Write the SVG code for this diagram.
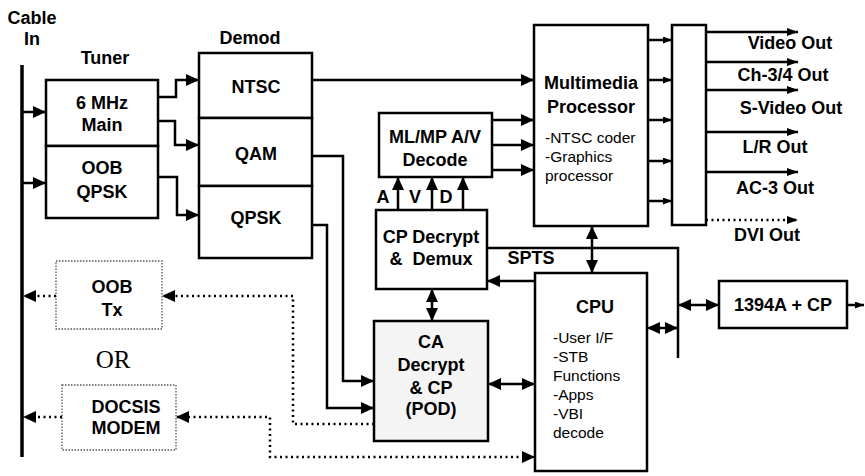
<svg xmlns="http://www.w3.org/2000/svg" width="865" height="476" viewBox="0 0 865 476">
<style>
.box{fill:#fff;stroke:#000;stroke-width:2.5}
.ca{fill:#f4f4f4;stroke:#000;stroke-width:2.5}
.dbox{fill:#fff;stroke:#555;stroke-width:1.3;stroke-dasharray:1.5 1.5}
.ln{fill:none;stroke:#000;stroke-width:2.5}
.dl{fill:none;stroke:#000;stroke-width:2.5;stroke-dasharray:2 3.5}
.bus{fill:none;stroke:#000;stroke-width:3.5}
.b{font-family:"Liberation Sans",Arial,sans-serif;font-weight:bold;font-size:18px;text-anchor:middle;fill:#000}
.r{font-family:"Liberation Sans",Arial,sans-serif;font-size:15.5px;fill:#000}
.or{font-family:"Liberation Serif","Times New Roman",serif;font-size:25px;text-anchor:middle;fill:#000}
</style>
<defs>
<marker id="a" markerUnits="userSpaceOnUse" markerWidth="14" markerHeight="13" refX="13" refY="6" orient="auto-start-reverse" viewBox="0 0 14 13"><path d="M0,0 L13,6 L0,12 Z" fill="#000"/></marker>
<marker id="s" markerUnits="userSpaceOnUse" markerWidth="10" markerHeight="8" refX="9" refY="3.5" orient="auto-start-reverse" viewBox="0 0 10 8"><path d="M0,0 L9,3.5 L0,7 Z" fill="#000"/></marker>
<marker id="m" markerUnits="userSpaceOnUse" markerWidth="12" markerHeight="10" refX="11" refY="4" orient="auto-start-reverse" viewBox="0 0 12 10"><path d="M0,0 L11,4 L0,8 Z" fill="#000"/></marker>
</defs>

<g id="labels">
<text class="b" x="32" y="24">Cable</text>
<text class="b" x="32" y="45">In</text>
<text class="b" x="105" y="64">Tuner</text>
<text class="b" x="250" y="44">Demod</text>
<text class="or" x="113" y="368">OR</text>
</g>

<g id="bus">
<path class="bus" d="M22,65 V457"/>
</g>

<g id="tuner-main">
<rect class="box" x="46" y="80" width="112" height="66"/>
<text class="b" x="102" y="109">6 MHz</text>
<text class="b" x="102" y="131">Main</text>
</g>
<g id="tuner-oob">
<rect class="box" x="46" y="146" width="112" height="72"/>
<text class="b" x="102" y="174">OOB</text>
<text class="b" x="102" y="198">QPSK</text>
</g>

<g id="demod-ntsc">
<rect class="box" x="199" y="53" width="113" height="65"/>
<text class="b" x="256" y="93">NTSC</text>
</g>
<g id="demod-qam">
<rect class="box" x="199" y="118" width="113" height="68"/>
<text class="b" x="256" y="160">QAM</text>
</g>
<g id="demod-qpsk">
<rect class="box" x="199" y="186" width="113" height="72"/>
<text class="b" x="256" y="224">QPSK</text>
</g>

<g id="mlmp">
<rect class="box" x="379" y="113" width="113" height="64"/>
<text class="b" x="435" y="143">ML/MP A/V</text>
<text class="b" x="435" y="166">Decode</text>
</g>

<g id="cpdecrypt">
<rect class="box" x="376" y="210" width="111" height="79"/>
<text class="b" x="431" y="243">CP Decrypt</text>
<text class="b" x="431" y="265" style="white-space:pre">&amp;  Demux</text>
</g>

<g id="ca">
<rect class="ca" x="374" y="321" width="114" height="120"/>
<text class="b" x="431" y="348">CA</text>
<text class="b" x="431" y="371">Decrypt</text>
<text class="b" x="431" y="394">&amp; CP</text>
<text class="b" x="431" y="415">(POD)</text>
</g>

<g id="multimedia">
<rect class="box" x="534" y="25" width="114" height="201"/>
<text class="b" x="591" y="89">Multimedia</text>
<text class="b" x="591" y="113">Processor</text>
<text class="r" x="545" y="143">-NTSC coder</text>
<text class="r" x="545" y="162">-Graphics</text>
<text class="r" x="545" y="181">processor</text>
</g>

<g id="outbox">
<rect class="box" x="672" y="25" width="34" height="200"/>
</g>

<g id="cpu">
<rect class="box" x="535" y="273" width="112" height="198"/>
<text class="b" x="595" y="313">CPU</text>
<text class="r" x="553" y="343">-User I/F</text>
<text class="r" x="553" y="362">-STB</text>
<text class="r" x="553" y="381">Functions</text>
<text class="r" x="553" y="400">-Apps</text>
<text class="r" x="553" y="419">-VBI</text>
<text class="r" x="553" y="438">decode</text>
</g>

<g id="ieee1394">
<rect class="box" x="719" y="281" width="128" height="47"/>
<text class="b" x="783" y="311">1394A + CP</text>
</g>

<g id="oobtx">
<rect class="dbox" x="56" y="261" width="106" height="68"/>
<text class="b" x="112" y="293">OOB</text>
<text class="b" x="112" y="316">Tx</text>
</g>

<g id="docsis">
<rect class="dbox" x="62" y="385" width="114" height="65"/>
<text class="b" x="126" y="413">DOCSIS</text>
<text class="b" x="126" y="434">MODEM</text>
</g>

<g id="outputs">
<text class="b" x="790" y="49">Video Out</text>
<text class="b" x="783" y="81">Ch-3/4 Out</text>
<text class="b" x="791" y="114">S-Video Out</text>
<text class="b" x="775" y="153">L/R Out</text>
<text class="b" x="775" y="194">AC-3 Out</text>
<text class="b" x="767" y="241">DVI Out</text>
<text class="b" x="531" y="264">SPTS</text>
<text class="b" x="383" y="203">A</text>
<text class="b" x="415" y="203">V</text>
<text class="b" x="446" y="203">D</text>
</g>

<g id="connectors">
<path class="ln" d="M22,112 H46" marker-end="url(#a)"/>
<path class="ln" d="M22,183 H46" marker-end="url(#a)"/>
<path class="ln" d="M158,97 H176 V80 H199" marker-end="url(#a)"/>
<path class="ln" d="M158,121 H175 V145 H199" marker-end="url(#a)"/>
<path class="ln" d="M158,177 H177 V215 H199" marker-end="url(#a)"/>
<path class="ln" d="M312,80 H534" marker-end="url(#a)"/>
<path class="ln" d="M312,156 H343 V381 H374" marker-end="url(#a)"/>
<path class="ln" d="M312,225 H327 V408 H374" marker-end="url(#a)"/>
<path class="ln" d="M492,120 H534" marker-end="url(#a)"/>
<path class="ln" d="M492,145 H534" marker-end="url(#a)"/>
<path class="ln" d="M492,170 H534" marker-end="url(#a)"/>
<path class="ln" d="M398,210 V177" marker-end="url(#a)"/>
<path class="ln" d="M432,210 V177" marker-end="url(#a)"/>
<path class="ln" d="M463,210 V177" marker-end="url(#a)"/>
<path class="ln" d="M487,248 H678 V358"/>
<path class="ln" d="M535,281 H487" marker-end="url(#a)"/>
<path class="ln" d="M592,226 V273" marker-start="url(#a)" marker-end="url(#a)"/>
<path class="ln" d="M432,289 V321" marker-start="url(#a)" marker-end="url(#a)"/>
<path class="ln" d="M488,384 H535" marker-start="url(#a)" marker-end="url(#a)"/>
<path class="ln" d="M647,328 H678" marker-start="url(#a)" marker-end="url(#a)"/>
<path class="ln" d="M678,305 H719" marker-start="url(#a)" marker-end="url(#a)"/>
<path class="ln" d="M847,305 H864" marker-end="url(#s)"/>
<path class="ln" d="M648,40 H672" marker-end="url(#s)"/>
<path class="ln" d="M648,80 H672" marker-end="url(#s)"/>
<path class="ln" d="M648,120 H672" marker-end="url(#s)"/>
<path class="ln" d="M648,161 H672" marker-end="url(#s)"/>
<path class="ln" d="M648,201 H672" marker-end="url(#s)"/>
<path class="ln" d="M706,32 H798" marker-end="url(#m)"/>
<path class="ln" d="M706,62 H798" marker-end="url(#m)"/>
<path class="ln" d="M706,90 H798" marker-end="url(#m)"/>
<path class="ln" d="M706,132 H798" marker-end="url(#m)"/>
<path class="ln" d="M706,172 H798" marker-end="url(#m)"/>
<path class="dl" d="M706,220 H798" marker-end="url(#m)"/>
<path class="dl" d="M56,296 H23" marker-end="url(#a)"/>
<path class="dl" d="M62,417 H23" marker-end="url(#a)"/>
<path class="dl" d="M374,424 H293 V296 H162" marker-end="url(#a)"/>
<path class="dl" d="M535,457 H270 V417 H176" marker-start="url(#a)" marker-end="url(#a)"/>
</g>
</svg>
